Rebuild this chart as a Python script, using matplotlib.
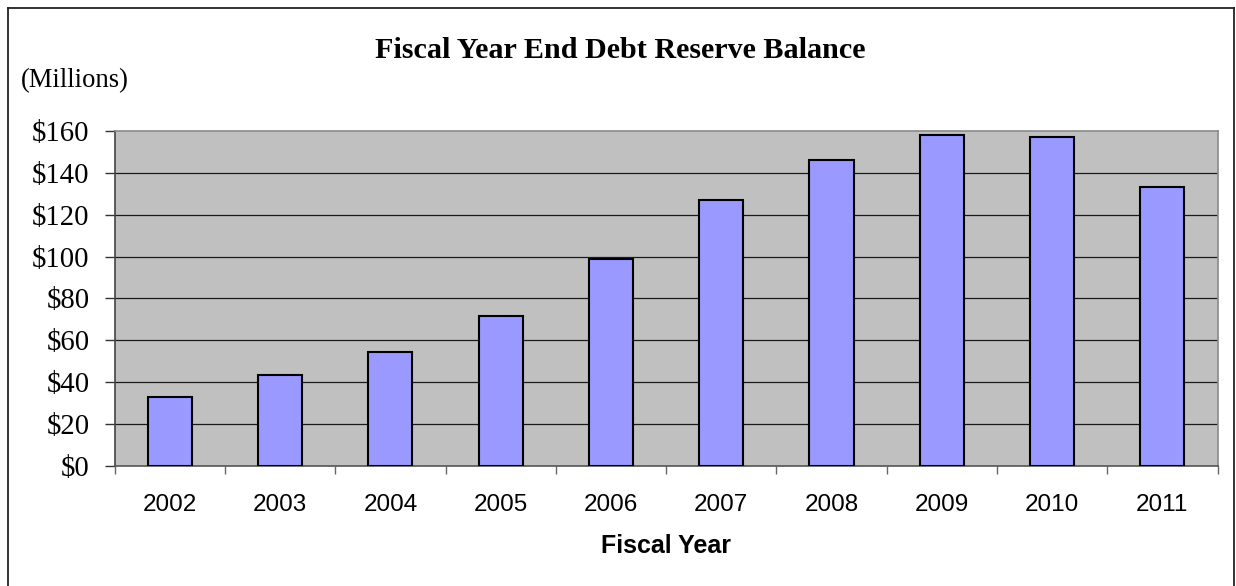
import matplotlib
matplotlib.use("Agg")
import matplotlib.pyplot as plt
from matplotlib.lines import Line2D
import numpy as np

years = ["2002", "2003", "2004", "2005", "2006", "2007", "2008", "2009", "2010", "2011"]
balance = [32.7, 43.5, 54.3, 71.6, 98.9, 127.0, 146.1, 157.9, 157.0, 133.4]
yticks = [0, 20, 40, 60, 80, 100, 120, 140, 160]
ytick_labels = ["$0", "$20", "$40", "$60", "$80", "$100", "$120", "$140", "$160"]

W, H = 1236, 586
fig = plt.figure(figsize=(W / 100, H / 100), dpi=100)
fig.patch.set_facecolor("white")

left, right = 114.7, 1217.5
top, bottom = 131.0, 465.7
ax = fig.add_axes([left / W, 1 - bottom / H, (right - left) / W, (bottom - top) / H])
ax.set_facecolor("#C0C0C0")

x = np.arange(len(years))
ax.bar(x, balance, width=0.4, color="#9999FF", edgecolor="black", linewidth=1.5, zorder=3)

ax.set_xlim(-0.5, len(years) - 0.5)
ax.set_ylim(0, 160)
ax.set_yticks(yticks)
ax.set_yticklabels(ytick_labels, fontfamily="Liberation Serif", fontsize=20.7)
ax.set_xticks(x)
ax.set_xticklabels(years, fontfamily="Liberation Sans", fontsize=17.5)
ax.set_xticks(np.arange(len(years) + 1) - 0.5, minor=True)

for yv in yticks[1:-1]:
    ax.axhline(yv, color="#1a1a1a", linewidth=0.9, zorder=1)

ax.tick_params(axis="y", direction="out", length=7, width=1.0, color="#333333", pad=11)
ax.tick_params(axis="x", which="major", length=0, pad=20.5)
ax.tick_params(axis="x", which="minor", direction="out", length=5.5, width=1.0, color="#666666")

for s in ["top", "right"]:
    ax.spines[s].set_color("#8a8a8a")
    ax.spines[s].set_linewidth(1.2)
ax.spines["left"].set_color("#444444")
ax.spines["left"].set_linewidth(1.2)
ax.spines["bottom"].set_color("#555555")
ax.spines["bottom"].set_linewidth(1.2)

fig.text(666 / W, 1 - 553.3 / H, "Fiscal Year", ha="center", va="baseline",
         fontfamily="Liberation Sans", fontweight="bold", fontsize=18)

fig.text(620 / W, 1 - 57.5 / H, "Fiscal Year End Debt Reserve Balance", ha="center", va="baseline",
         fontfamily="Liberation Serif", fontweight="bold", fontsize=21.7)
fig.text(20.7 / W, 1 - 87.5 / H, "(Millions)", ha="left", va="baseline",
         fontfamily="Liberation Serif", fontsize=19.2)

bx0, bx1, by0 = 7.5 / W, 1233.7 / W, 1 - 8.3 / H
for xs, ys in [([bx0, bx0], [0, by0]), ([bx0, bx1], [by0, by0]), ([bx1, bx1], [by0, 0])]:
    fig.add_artist(Line2D(xs, ys, transform=fig.transFigure, color="#222222", linewidth=1.3))

fig.savefig("out.png", dpi=100)
